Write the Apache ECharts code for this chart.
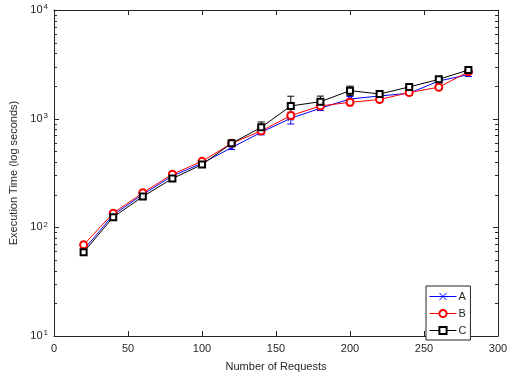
<!DOCTYPE html>
<html>
<head>
<meta charset="utf-8">
<script src="https://cdn.jsdelivr.net/npm/echarts@6/dist/echarts.min.js"></script>
<style>html,body{margin:0;padding:0;background:#fff;}#c{width:515px;height:381px;}</style>
</head>
<body>
<div id="c"></div>
<script>
var requests = [20, 40, 60, 80, 100, 120, 140, 160, 180, 200, 220, 240, 260, 280];
var seriesA = [62, 130, 201, 297, 389, 541, 750, 1008, 1247, 1517, 1618, 1714, 2221, 2541];
var seriesB = [69, 135, 208, 308, 405, 593, 771, 1067, 1309, 1415, 1500, 1740, 1947, 2705];
var seriesC = [59, 124, 192, 281, 378, 593, 832, 1309, 1433, 1811, 1687, 1958, 2301, 2805];
var errA = [3, 4, 6, 8, 10, 20, 40, 115, 60, 80, 60, 70, 80, 100];
var errB = [4, 5, 7, 10, 12, 20, 40, 80, 50, 100, 90, 70, 80, 100];
var errC = [3, 4, 6, 8, 10, 20, 100, 300, 180, 180, 100, 80, 100, 120];
var xTicks = [0, 50, 100, 150, 200, 250, 300];
var yDecades = [10, 100, 1000, 10000];
var minorMultipliers = [2, 3, 4, 5, 6, 7, 8, 9];

var txt = '#262626';
var font = 'Liberation Sans, Arial, sans-serif';

function pairs(vals) { return requests.map(function (x, i) { return [x, vals[i]]; }); }
function errData(vals, errs) { return requests.map(function (x, i) { return [x, vals[i], errs[i]]; }); }

// y tick marks: [x, value, isMajor]
var yTickVals = [];
for (var d = 0; d < yDecades.length; d++) {
  yTickVals.push([xTicks[3], yDecades[d], 1]);
  if (d < yDecades.length - 1) {
    for (var m = 0; m < minorMultipliers.length; m++) yTickVals.push([xTicks[3], yDecades[d] * minorMultipliers[m], 0]);
  }
}

function errorBarSeries(name, vals, errs, color) {
  return {
    type: 'custom',
    name: name + '_err',
    data: errData(vals, errs),
    z: 3,
    silent: true,
    renderItem: function (params, api) {
      var x = api.value(0), y = api.value(1), e = api.value(2);
      var lo = api.coord([x, y - e]);
      var hi = api.coord([x, y + e]);
      var hw = 3.5;
      var st = { stroke: color, lineWidth: 1 };
      return {
        type: 'group',
        children: [
          { type: 'line', shape: { x1: lo[0], y1: lo[1], x2: hi[0], y2: hi[1] }, style: st },
          { type: 'line', shape: { x1: lo[0] - hw, y1: lo[1], x2: lo[0] + hw, y2: lo[1] }, style: st },
          { type: 'line', shape: { x1: hi[0] - hw, y1: hi[1], x2: hi[0] + hw, y2: hi[1] }, style: st }
        ]
      };
    }
  };
}

var chart = echarts.init(document.getElementById('c'), null, { renderer: 'canvas' });
var option = {
  animation: false,
  backgroundColor: '#fff',
  textStyle: { fontFamily: font },
  grid: { left: 54, right: 17, top: 10, bottom: 45, containLabel: false },
  legend: {
    data: ['A', 'B', 'C'],
    orient: 'vertical',
    left: 426,
    top: 286,
    width: 44,
    padding: [5, 4, 4, 3],
    itemGap: 6,
    itemWidth: 27,
    itemHeight: 9,
    backgroundColor: '#fff',
    borderColor: '#262626',
    borderWidth: 1,
    borderRadius: 0,
    lineStyle: { width: 1 },
    itemStyle: { borderWidth: 1 },
    textStyle: { color: txt, fontSize: 11, fontFamily: font, padding: [0, 0, 0, -3] }
  },
  xAxis: [{
    type: 'value', min: 0, max: 300, interval: 50,
    name: 'Number of Requests', nameLocation: 'middle', nameGap: 25,
    nameTextStyle: { color: txt, fontSize: 11, fontFamily: font },
    axisLine: { show: true, lineStyle: { color: txt, width: 1 } },
    axisTick: { show: true, inside: true, length: 5, lineStyle: { color: txt } },
    axisLabel: { color: txt, fontSize: 11, fontFamily: font, margin: 7 },
    splitLine: { show: false }
  }, {
    type: 'value', min: 0, max: 300, interval: 50, position: 'top',
    axisLine: { show: true, onZero: false, lineStyle: { color: txt, width: 1 } },
    axisTick: { show: true, inside: true, length: 5, lineStyle: { color: txt } },
    axisLabel: { show: false },
    splitLine: { show: false }
  }],
  yAxis: [{
    type: 'log', logBase: 10, min: 10, max: 10000,
    name: 'Execution Time (log seconds)', nameLocation: 'middle', nameGap: 34,
    nameTextStyle: { color: txt, fontSize: 11, fontFamily: font },
    axisLine: { show: true, lineStyle: { color: txt, width: 1 } },
    axisTick: { show: false },
    axisLabel: {
      color: txt, fontSize: 11, fontFamily: font, margin: 6,
      formatter: function (v) {
        var e = Math.round(Math.log10(v));
        return '{b|10}{s|' + e + '}';
      },
      rich: {
        b: { fontSize: 11, color: txt, fontFamily: font },
        s: { fontSize: 8, color: txt, fontFamily: font, verticalAlign: 'top', padding: [0, 0, 6, 1] }
      }
    },
    splitLine: { show: false }
  }, {
    type: 'log', logBase: 10, min: 10, max: 10000, position: 'right',
    axisLine: { show: true, onZero: false, lineStyle: { color: txt, width: 1 } },
    axisTick: { show: false },
    axisLabel: { show: false },
    splitLine: { show: false }
  }],
  series: [
    {
      type: 'custom', name: 'yticks', data: yTickVals, silent: true, z: 10,
      renderItem: function (params, api) {
        var p = api.coord([api.value(0), api.value(1)]);
        var len = api.value(2) ? 5 : 3;
        var cs = params.coordSys;
        var yy = Math.round(p[1]) + 0.5;
        var st = { stroke: txt, lineWidth: 1 };
        return {
          type: 'group',
          children: [
            { type: 'line', shape: { x1: cs.x, y1: yy, x2: cs.x + len, y2: yy }, style: st },
            { type: 'line', shape: { x1: cs.x + cs.width - len, y1: yy, x2: cs.x + cs.width, y2: yy }, style: st }
          ]
        };
      }
    },
    errorBarSeries('A', seriesA, errA, '#0000ff'),
    {
      type: 'line', name: 'A', data: pairs(seriesA), z: 4,
      symbol: 'path://M0 0L10 10M10 0L0 10', symbolSize: 5,
      color: '#0000ff',
      lineStyle: { color: '#0000ff', width: 1 },
      itemStyle: { color: '#0000ff', borderColor: '#0000ff', borderWidth: 1 }
    },
    errorBarSeries('B', seriesB, errB, '#ff0000'),
    {
      type: 'line', name: 'B', data: pairs(seriesB), z: 5,
      symbol: 'emptyCircle', symbolSize: 7,
      color: '#ff0000',
      lineStyle: { color: '#ff0000', width: 1 },
      itemStyle: { color: '#ff0000', borderColor: '#ff0000', borderWidth: 1 }
    },
    errorBarSeries('C', seriesC, errC, '#000000'),
    {
      type: 'line', name: 'C', data: pairs(seriesC), z: 6,
      symbol: 'emptyRect', symbolSize: 6,
      color: '#000000',
      lineStyle: { color: '#000000', width: 1 },
      itemStyle: { color: '#000000', borderColor: '#000000', borderWidth: 1 }
    }
  ]
};
chart.setOption(option);
</script>
</body>
</html>
